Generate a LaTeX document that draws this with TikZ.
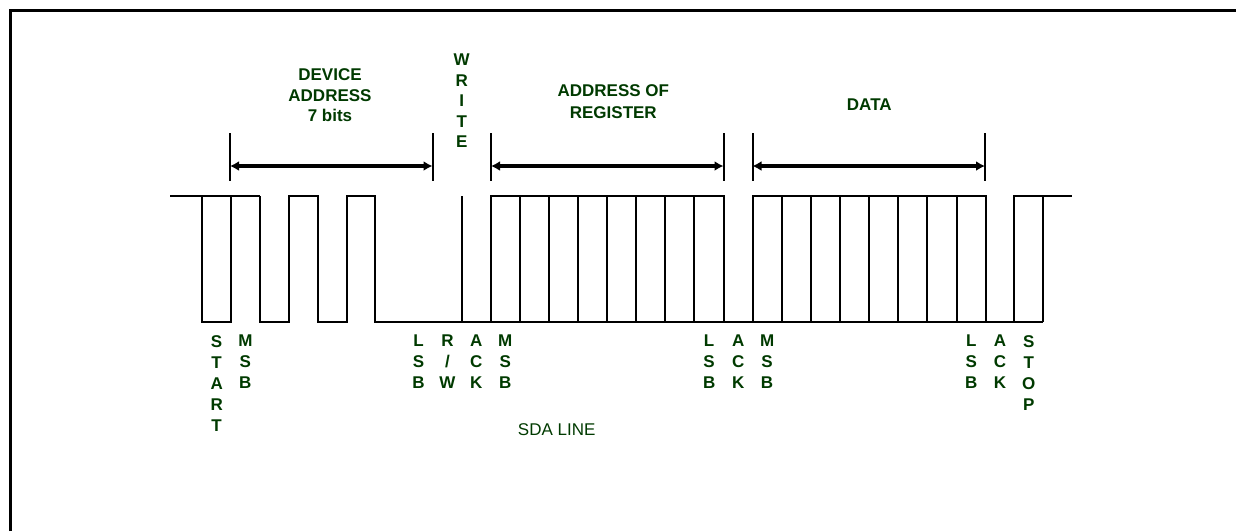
\documentclass[tikz,border=0pt]{standalone}
\usepackage{fontspec}
\setmainfont{Liberation Sans}
\usetikzlibrary{arrows.meta}
\definecolor{lblgreen}{RGB}{0,58,0}
\begin{document}
\begin{tikzpicture}[x=1pt,y=-1pt,
  frameline/.style={line width=3pt, black},
  wave/.style={line width=2pt, line join=miter, black},
  tickline/.style={line width=2pt, black},
  spanarrow/.style={line width=3.5pt, {Latex[length=9pt,width=10pt]}-{Latex[length=9pt,width=10pt]}},
  lbl/.style={text=lblgreen, font=\fontsize{17}{21}\selectfont\bfseries, align=center, inner sep=0pt, anchor=north},
  toplbl/.style={lbl, font=\fontsize{17}{20.5}\selectfont\bfseries},
  plainlbl/.style={text=lblgreen, font=\fontsize{17}{21}\selectfont, inner sep=0pt}]
\useasboundingbox (0,0) rectangle (1236,531);

% frame
\draw[frameline] (10,531) -- (10,10) -- (1236,10);

% waveform
\draw[wave] (170,196) -- (259.7,196);
\draw[wave] (202.3,196) -- (202.3,322) -- (231,322) -- (231,196);
\draw[wave] (259.7,196) -- (259.7,322) -- (289,322) -- (289,196) -- (317.7,196) -- (317.7,322)
  -- (346.7,322) -- (346.7,196) -- (375,196) -- (375,322) -- (490.7,322);
\draw[wave] (462,196) -- (462,322);
% register address bits
\draw[wave] (490.7,322) -- (490.7,196) -- (724,196) -- (724,322);
\draw[wave] (490.7,322) -- (752.5,322);
\foreach \x in {519.7,548.7,578,607.3,636.3,665.3,694.3}
  \draw[wave] (\x,196) -- (\x,322);
% data bits
\draw[wave] (752.5,322) -- (752.5,196) -- (985.7,196) -- (985.7,322);
\draw[wave] (752.5,322) -- (1043.3,322);
\foreach \x in {781.7,810.7,840,868.7,898,927.3,956.7}
  \draw[wave] (\x,196) -- (\x,322);
% stop
\draw[wave] (1014.3,322) -- (1014.3,196) -- (1072.3,196);
\draw[wave] (1043.3,196) -- (1043.3,322);

% span ticks
\foreach \n/\x in {t1/230,t2/432.5,t3/491,t4/723.5,t5/752.5,t6/985}{
  \coordinate (\n top) at (\x,133);
  \coordinate (\n bot) at (\x,181);
  \coordinate (\n) at (\x,166);
  \draw[tickline] (\n top) -- (\n bot);
}
\draw[spanarrow] (t1) -- (t2);
\draw[spanarrow] (t3) -- (t4);
\draw[spanarrow] (t5) -- (t6);

% top labels
\node[toplbl] (devaddr) at (330,68.5) {DEVICE\\ADDRESS\\7 bits};
\node[toplbl] (write) at (461.7,53.8) {W\\R\\I\\T\\E};
\node[lbl, font=\fontsize{17}{22}\selectfont\bfseries] (regaddr) at (613.3,84) {ADDRESS OF\\REGISTER};
\node[lbl, anchor=center] (data) at (869.3,105) {DATA};

% bottom labels
\node[lbl] (start) at (216.65,335) {S\\T\\A\\R\\T};
\node[lbl] (msb1) at (245.35,335) {M\\S\\B};
\node[lbl] (lsb1) at (418.5,335) {L\\S\\B};
\node[lbl] (rw) at (447.5,335) {R\\/\\W};
\node[lbl] (ack1) at (476.35,335) {A\\C\\K};
\node[lbl] (msb2) at (505.2,335) {M\\S\\B};
\node[lbl] (lsb2) at (709.15,335) {L\\S\\B};
\node[lbl] (ack2) at (738.25,335) {A\\C\\K};
\node[lbl] (msb3) at (767.1,335) {M\\S\\B};
\node[lbl] (lsb3) at (971.2,335) {L\\S\\B};
\node[lbl] (ack3) at (1000,335) {A\\C\\K};
\node[lbl] (stop) at (1028.8,335) {S\\T\\O\\P};

\node[plainlbl] (sda) at (556.7,429.3) {SDA LINE};
\end{tikzpicture}
\end{document}
